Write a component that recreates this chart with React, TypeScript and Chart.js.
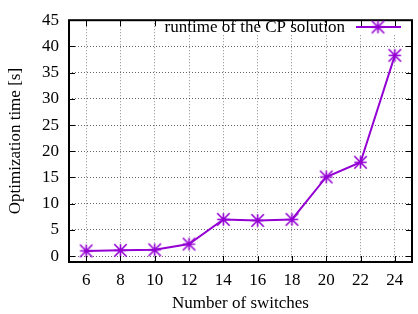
import React, { useEffect, useRef } from 'react';
import { Chart, registerables } from 'chart.js';
Chart.register(...registerables);

const switches = [6, 8, 10, 12, 14, 16, 18, 20, 22, 24];
const runtimes = [1.0, 1.1, 1.2, 2.3, 7.0, 6.8, 7.0, 15.1, 17.9, 38.3];
const yTickValues = [0, 5, 10, 15, 20, 25, 30, 35, 40, 45];
const xTickValues = [6, 8, 10, 12, 14, 16, 18, 20, 22, 24];
const seriesLabel = 'runtime of the CP solution';
const xTitle = 'Number of switches';
const yTitle = 'Optimization time [s]';

const FONT = "'Liberation Serif', 'DejaVu Serif', serif";
const COLOR = '#9400D3';

function makeStar(): HTMLCanvasElement {
  const c = document.createElement('canvas');
  const s = 15;
  c.width = s;
  c.height = s;
  const g = c.getContext('2d')!;
  g.strokeStyle = COLOR;
  g.lineWidth = 1.6;
  const m = s / 2;
  const r = 6.2;
  g.beginPath();
  g.moveTo(m - r, m); g.lineTo(m + r, m);
  g.moveTo(m, m - r); g.lineTo(m, m + r);
  g.moveTo(m - r, m - r); g.lineTo(m + r, m + r);
  g.moveTo(m - r, m + r); g.lineTo(m + r, m - r);
  g.stroke();
  return c;
}

export default function App() {
  const ref = useRef<HTMLCanvasElement>(null);
  useEffect(() => {
    const star = makeStar();
    const framePlugin = {
      id: 'frame',
      beforeDatasetsDraw(chart: any) {
        const { ctx } = chart;
        ctx.save();
        ctx.fillStyle = '#fff';
        ctx.fillRect(164, 20, 254, 15);
        ctx.restore();
      },
      afterDatasetsDraw(chart: any) {
        const { ctx, chartArea } = chart;
        const { left, right, top, bottom } = chartArea;
        const xs = chart.scales.x;
        const ys = chart.scales.y;
        ctx.save();
        ctx.strokeStyle = '#000';
        ctx.lineWidth = 1;
        ctx.beginPath();
        yTickValues.forEach((v) => {
          const py = Math.round(ys.getPixelForValue(v)) + 0.5;
          ctx.moveTo(left, py); ctx.lineTo(left + 6, py);
          ctx.moveTo(right, py); ctx.lineTo(right - 6, py);
        });
        xTickValues.forEach((v) => {
          const px = Math.round(xs.getPixelForValue(v)) + 0.5;
          ctx.moveTo(px, bottom); ctx.lineTo(px, bottom - 6);
          ctx.moveTo(px, top); ctx.lineTo(px, top + 6);
        });
        ctx.stroke();
        ctx.lineWidth = 2;
        ctx.strokeRect(left, top, right - left, bottom - top);
        // legend
        ctx.font = `17px ${FONT}`;
        ctx.fillStyle = '#000';
        ctx.textAlign = 'right';
        ctx.textBaseline = 'alphabetic';
        ctx.fillText(seriesLabel, 345, 32);
        ctx.strokeStyle = COLOR;
        ctx.lineWidth = 2;
        ctx.beginPath();
        ctx.moveTo(356, 27);
        ctx.lineTo(401, 27);
        ctx.stroke();
        ctx.drawImage(star, 378 - star.width / 2, 27 - star.height / 2);
        ctx.restore();
      },
    };
    const chart = new Chart(ref.current!, {
      type: 'line',
      data: {
        datasets: [
          {
            label: seriesLabel,
            data: switches.map((x, i) => ({ x, y: runtimes[i] })),
            borderColor: COLOR,
            backgroundColor: COLOR,
            borderWidth: 2,
            pointStyle: star as any,
            pointRadius: 7,
            tension: 0,
            fill: false,
          },
        ],
      },
      options: {
        animation: false,
        responsive: false,
        devicePixelRatio: 1,
        layout: { padding: { top: 14, right: 1, left: 0, bottom: 0 } },
        plugins: { legend: { display: false }, tooltip: { enabled: false } },
        scales: {
          x: {
            type: 'linear',
            min: 5,
            max: 25,
            afterBuildTicks: (s: any) => {
              s.ticks = xTickValues.map((v) => ({ value: v }));
            },
            afterFit: (s: any) => {
              s.height = 52;
            },
            grid: { color: 'rgba(0,0,0,0.45)', drawTicks: false, lineWidth: 1 },
            border: { display: false, dash: [1, 2] },
            ticks: {
              color: '#000',
              font: { size: 17, family: FONT },
              padding: 8,
              maxRotation: 0,
              autoSkip: false,
            },
            title: {
              display: true,
              text: xTitle,
              color: '#000',
              font: { size: 17, family: FONT },
              padding: { top: 0, bottom: 0 },
            },
          },
          y: {
            type: 'linear',
            min: -1.12,
            max: 45,
            afterBuildTicks: (s: any) => {
              s.ticks = yTickValues.map((v) => ({ value: v }));
            },
            afterFit: (s: any) => {
              s.width = 69;
            },
            grid: { color: 'rgba(0,0,0,0.6)', drawTicks: false, lineWidth: 1 },
            border: { display: false, dash: [1, 2] },
            ticks: {
              color: '#000',
              font: { size: 17, family: FONT },
              padding: 10,
              autoSkip: false,
            },
            title: {
              display: true,
              text: yTitle,
              color: '#000',
              font: { size: 17, family: FONT },
              padding: { top: 5, bottom: 0 },
            },
          },
        },
      },
      plugins: [framePlugin],
    });
    return () => chart.destroy();
  }, []);
  return (
    <div style={{ position: 'fixed', left: 0, top: 0, width: 418, height: 314, overflow: 'hidden', background: '#fff' }}>
      <canvas ref={ref} width={421} height={314} style={{ display: 'block' }} />
    </div>
  );
}
